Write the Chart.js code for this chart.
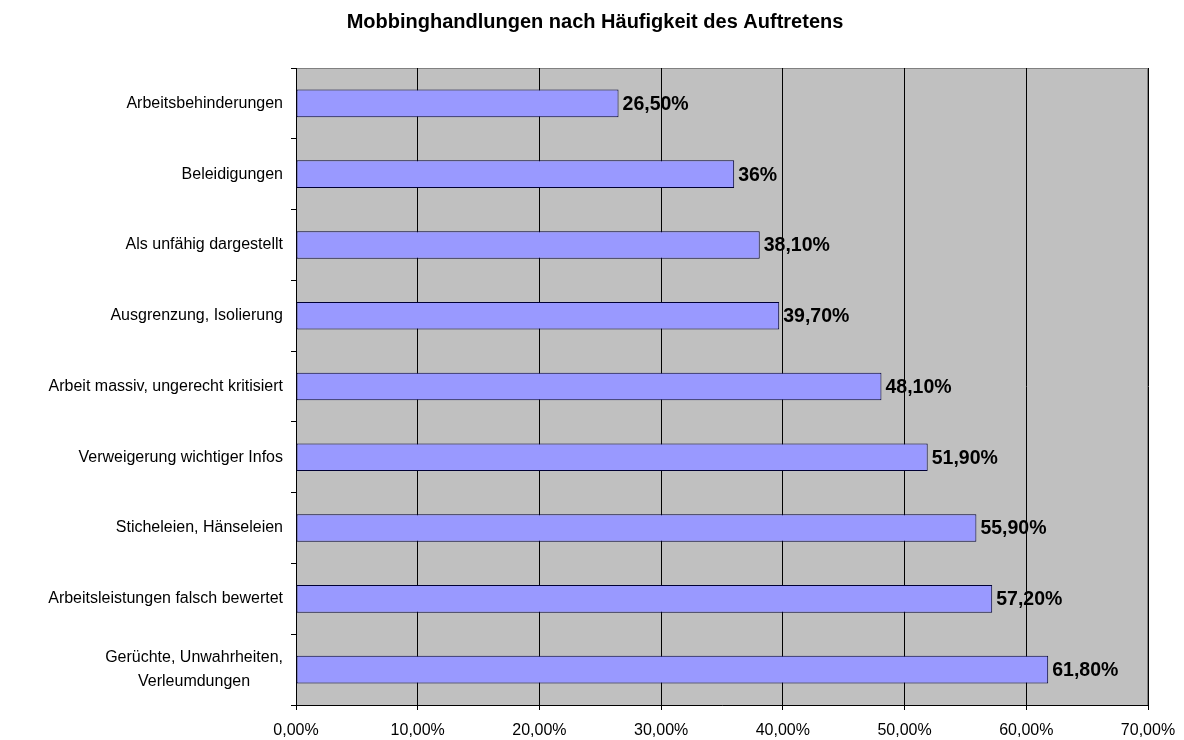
<!DOCTYPE html>
<html>
<head>
<meta charset="utf-8">
<script src="https://cdn.jsdelivr.net/npm/chart.js@4.4.1/dist/chart.umd.min.js"></script>
<style>
  html, body { margin: 0; padding: 0; background: #fff; }
</style>
</head>
<body>
<canvas id="chart" width="1184" height="740"></canvas>
<script>
// chart data
const chartTitle = 'Mobbinghandlungen nach Häufigkeit des Auftretens';
const categories = [
  'Arbeitsbehinderungen',
  'Beleidigungen',
  'Als unfähig dargestellt',
  'Ausgrenzung, Isolierung',
  'Arbeit massiv, ungerecht kritisiert',
  'Verweigerung wichtiger Infos',
  'Sticheleien, Hänseleien',
  'Arbeitsleistungen falsch bewertet',
  ['Gerüchte, Unwahrheiten,', 'Verleumdungen']
];
const values = [26.5, 36, 38.1, 39.7, 48.1, 51.9, 55.9, 57.2, 61.8];
const valueLabels = ['26,50%', '36%', '38,10%', '39,70%', '48,10%', '51,90%', '55,90%', '57,20%', '61,80%'];
const xMin = 0;
const xMax = 70;
const xStep = 10;

const FONT = '"Liberation Sans", Arial, sans-serif';

// gray plot area with a thin border, title, labels drawn by hand
const plotDecor = {
  id: 'plotDecor',
  beforeDraw(chart) {
    const { ctx, chartArea: a } = chart;
    ctx.save();
    ctx.fillStyle = '#C0C0C0';
    ctx.fillRect(a.left, a.top, a.right - a.left, a.bottom - a.top);
    ctx.strokeStyle = '#808080';
    ctx.lineWidth = 1;
    ctx.strokeRect(a.left + 0.5, a.top + 0.5, a.right - a.left - 1, a.bottom - a.top);
    ctx.restore();
  },
  afterDraw(chart) {
    const { ctx, chartArea: a } = chart;
    const yScale = chart.scales.y;
    const meta = chart.getDatasetMeta(0);
    ctx.save();

    // title
    ctx.fillStyle = '#000';
    ctx.font = 'bold 20px ' + FONT;
    ctx.textAlign = 'center';
    ctx.textBaseline = 'middle';
    ctx.fillText(chartTitle, 595, 22);

    // category labels
    ctx.font = '16px ' + FONT;
    const rightEdge = a.left - 13;
    categories.forEach((lab, i) => {
      const y = yScale.getPixelForValue(i);
      const lines = Array.isArray(lab) ? lab : [lab];
      const w = Math.max(...lines.map(l => ctx.measureText(l).width));
      const lh = 24;
      lines.forEach((l, j) => {
        ctx.textAlign = 'center';
        ctx.fillText(l, rightEdge - w / 2, y + (j - (lines.length - 1) / 2) * lh);
      });
    });

    // value labels
    ctx.font = 'bold 19.5px ' + FONT;
    ctx.textAlign = 'left';
    meta.data.forEach((bar, i) => {
      ctx.fillText(valueLabels[i], bar.x + 4, bar.y + 1);
    });
    ctx.restore();
  }
};

const ctx = document.getElementById('chart').getContext('2d');
const chart = new Chart(ctx, {
  type: 'bar',
  data: {
    labels: categories,
    datasets: [{
      data: values,
      backgroundColor: '#9999FF',
      borderColor: '#000033',
      borderWidth: 1,
      borderSkipped: false,
      categoryPercentage: 1,
      barPercentage: 0.39
    }]
  },
  options: {
    indexAxis: 'y',
    responsive: false,
    animation: false,
    layout: { padding: { top: 68, right: 36, bottom: 0, left: 0 } },
    plugins: {
      legend: { display: false },
      title: { display: false },
      tooltip: { enabled: false }
    },
    scales: {
      x: {
        min: xMin,
        max: xMax,
        ticks: {
          stepSize: xStep,
          color: '#000',
          font: { family: FONT, size: 16 },
          padding: 11,
          maxRotation: 0,
          callback: v => v.toFixed(2).replace('.', ',') + '%'
        },
        grid: { color: '#000', lineWidth: 1, tickLength: 5 },
        border: { color: '#000', width: 1 },
        afterFit: s => { s.height = 35; s.paddingLeft = 0; s.paddingRight = 0; }
      },
      y: {
        ticks: { display: false },
        grid: { offset: true, drawOnChartArea: false, color: '#000', tickLength: 5 },
        border: { color: '#000', width: 1 },
        afterFit: s => { s.width = 296; }
      }
    }
  },
  plugins: [plotDecor]
});
</script>
</body>
</html>
